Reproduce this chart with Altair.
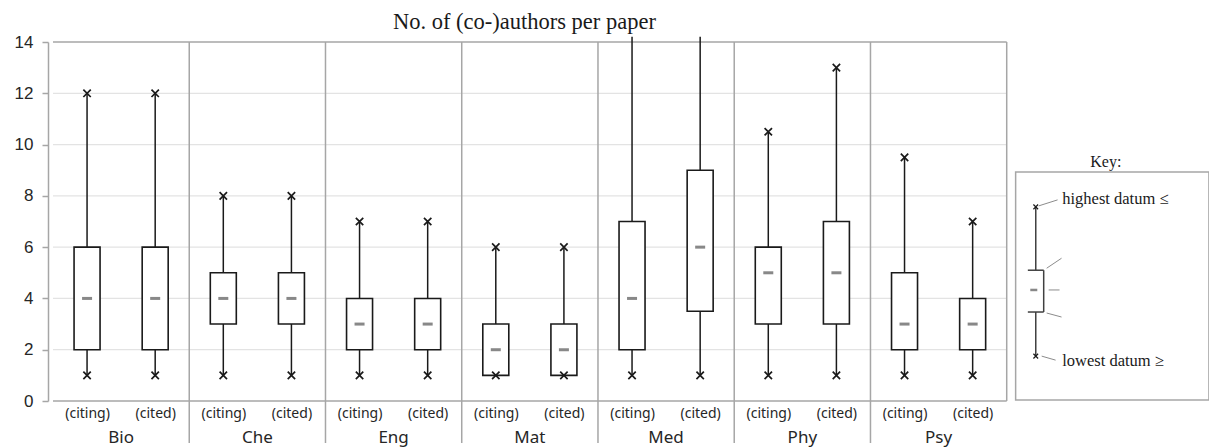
import altair as alt
import pandas as pd

# ---------------- data ----------------
groups = ["Bio", "Che", "Eng", "Mat", "Med", "Phy", "Psy"]
roles = ["(citing)", "(cited)"]
lows    = [1, 1,   1, 1,   1, 1,   1, 1,   1, 1,      1, 1,    1, 1]
q1s     = [2, 2,   3, 3,   2, 2,   1, 1,   2, 3.5,    3, 3,    2, 2]
medians = [4, 4,   4, 4,   3, 3,   2, 2,   4, 6,      5, 5,    3, 3]
q3s     = [6, 6,   5, 5,   4, 4,   3, 3,   7, 9,      6, 7,    5, 4]
highs   = [12, 12, 8, 8,   7, 7,   6, 6,   14.2, 14.2, 10.5, 13, 9.5, 7]
y_ticks = [0, 2, 4, 6, 8, 10, 12, 14]
title_text = "No. of (co-)authors per paper"

# key (schematic box)
key_values = {"low": 1.75, "q1": 3.47, "median": 4.33, "q3": 5.1, "high": 7.57}
key_labels = ["highest datum \u2264", "lowest datum \u2265"]

# ---------------- layout ----------------
W_PLOT = 962          # pixel width of the 7 group panels
H = 359
LEFT, TOP = 48, 42
TOTAL_W, TOTAL_H = 1209, 448
N = len(groups)
PX = W_PLOT / N                         # px per x unit
X_MAX = (TOTAL_W - LEFT) / PX
PY = H / 14.0                           # px per y unit

def xu(px):  # pixel offset -> x data units
    return px / PX

def yu(px):
    return px / PY

rows = []
for gi, g in enumerate(groups):
    for ri, r in enumerate(roles):
        i = gi * 2 + ri
        rows.append(dict(group=g, role=r, pos=gi + 0.25 + 0.5 * ri,
                         low=lows[i], q1=q1s[i], median=medians[i],
                         q3=q3s[i], high=highs[i]))
df = pd.DataFrame(rows)

xs = alt.Scale(domain=[0, X_MAX], nice=False, zero=False)
ys = alt.Scale(domain=[0, 14], nice=False, zero=False)
box_positions = list(df["pos"])

x_axis = alt.Axis(values=box_positions, title=None, domain=False, ticks=False, tickSize=0,
                  grid=False, labelExpr="(datum.value % 1) < 0.5 ? '(citing)' : '(cited)'",
                  labelFont="Noto Sans", labelFontSize=14, labelColor="#262626",
                  labelPadding=5, labelFlush=False, labelOverlap=False)
y_axis = alt.Axis(values=y_ticks, title=None, grid=False, domainColor="#a6a6a6",
                  domainWidth=1.5, tickColor="#a6a6a6", tickWidth=1.5, tickSize=6,
                  labelFont="Liberation Sans", labelFontSize=17, labelColor="#262626",
                  labelPadding=9, labelFlush=False)

def X(f, **kw):
    return alt.X(f, type="quantitative", scale=xs, axis=x_axis, **kw)

def Y(f, **kw):
    return alt.Y(f, type="quantitative", scale=ys, axis=y_axis, **kw)

def X2(f):
    return alt.X2(f)

def Y2(f):
    return alt.Y2(f)

# grid lines
grid_df = pd.DataFrame({"y": y_ticks[1:-1], "x": 0, "x2": N})
grid = alt.Chart(grid_df).mark_rule(color="#e3e3e3", strokeWidth=1.2).encode(
    x=X("x"), x2=X2("x2"), y=Y("y"))

# border lines (top, bottom, right)
border_df = pd.DataFrame([
    {"x": 0, "x2": N, "y": 14, "y2": 14},
    {"x": 0, "x2": N, "y": 0, "y2": 0},
    {"x": N, "x2": N, "y": 0, "y2": 14},
])
borders = alt.Chart(border_df).mark_rule(color="#a6a6a6", strokeWidth=1.5).encode(
    x=X("x"), x2=X2("x2"), y=Y("y"), y2=Y2("y2"))

# dividers between groups, extending into the label area
div_df = pd.DataFrame({"x": list(range(1, N)), "y": -yu(42), "y2": 14})
dividers = alt.Chart(div_df).mark_rule(color="#a6a6a6", strokeWidth=1.5).encode(
    x=X("x"), y=Y("y"), y2=Y2("y2"))

whiskers = alt.Chart(df).mark_rule(color="#1a1a1a", strokeWidth=1.5).encode(
    x=X("pos"), y=Y("low"), y2=Y2("high"))

boxes = alt.Chart(df).mark_bar(size=26, fill="white", stroke="#1a1a1a",
                               strokeWidth=1.6).encode(
    x=X("pos"), y=Y("q1"), y2=Y2("q3"))

meds = alt.Chart(df).mark_tick(orient="horizontal", size=10, thickness=3,
                               color="#555555").encode(
    x=X("pos"), y=Y("median"))

cross = "M-1,-1L1,1M-1,1L1,-1"
low_marks = alt.Chart(df).mark_point(shape=cross, size=55, filled=False,
                                     stroke="#1a1a1a", strokeWidth=1.7, opacity=1).encode(
    x=X("pos"), y=Y("low"))
high_marks = alt.Chart(df).transform_filter("datum.high <= 14").mark_point(
    shape=cross, size=55, filled=False, stroke="#1a1a1a", strokeWidth=1.7, opacity=1).encode(
    x=X("pos"), y=Y("high"))

grp_df = pd.DataFrame({"group": groups, "x": [i + 0.5 for i in range(N)], "y": -yu(37)})
grp_text = alt.Chart(grp_df).mark_text(font="Noto Sans", fontSize=17, color="#262626",
                                        baseline="middle", align="center").encode(
    x=X("x"), y=Y("y"), text="group:N")

title_df = pd.DataFrame({"t": [title_text], "x": [3.46], "y": [14 + yu(401 - 29 - H)]})
title = alt.Chart(title_df).mark_text(font="Liberation Serif", fontSize=22.5, color="#1a1a1a",
                                      baseline="alphabetic", align="center").encode(
    x=X("x"), y=Y("y"), text="t:N")

# ---------------- key ----------------
kx = xu(1039.3 - LEFT)
khw = xu(8)
key_frame_df = pd.DataFrame({"x": [xu(1019 - LEFT)], "x2": [X_MAX + xu(5)], "y": [0.04],
                             "y2": [yu(401 - 172)]})
key_frame = alt.Chart(key_frame_df).mark_rect(fill="white", stroke="#a6a6a6",
                                              strokeWidth=1.5).encode(
    x=X("x"), x2=X2("x2"), y=Y("y"), y2=Y2("y2"))

key_title_df = pd.DataFrame({"t": ["Key:"], "x": [xu(1110 - LEFT)], "y": [yu(401 - 162)]})
key_title = alt.Chart(key_title_df).mark_text(font="Liberation Serif", fontSize=16,
                                              color="#1a1a1a", baseline="middle").encode(
    x=X("x"), y=Y("y"), text="t:N")

kv = key_values
key_lines_df = pd.DataFrame([
    {"x": kx, "x2": kx, "y": kv["q3"], "y2": kv["high"]},
    {"x": kx, "x2": kx, "y": kv["low"], "y2": kv["q1"]},
    {"x": kx - khw, "x2": kx + khw, "y": kv["q3"], "y2": kv["q3"]},
    {"x": kx - khw, "x2": kx + khw, "y": kv["q1"], "y2": kv["q1"]},
    {"x": kx + khw, "x2": kx + khw, "y": kv["q1"], "y2": kv["q3"]},
])
key_lines = alt.Chart(key_lines_df).mark_rule(color="#404040", strokeWidth=1.5).encode(
    x=X("x"), x2=X2("x2"), y=Y("y"), y2=Y2("y2"))

key_med = alt.Chart(pd.DataFrame({"x": [kx - xu(2)], "y": [kv["median"]]})).mark_tick(
    orient="horizontal", size=7, thickness=2.5, color="#555555").encode(
    x=X("x"), y=Y("y"))

key_ends = alt.Chart(pd.DataFrame({"x": [kx, kx], "y": [kv["low"], kv["high"]]})).mark_point(
    shape=cross, size=22, filled=False, stroke="#1a1a1a", strokeWidth=1.2, opacity=1).encode(
    x=X("x"), y=Y("y"))

ptr_df = pd.DataFrame([
    {"x": kx + xu(3), "x2": kx + xu(22), "y": kv["high"] + yu(1), "y2": kv["high"] + yu(7)},
    {"x": kx + khw + xu(3), "x2": kx + khw + xu(18), "y": kv["q3"] + yu(2), "y2": kv["q3"] + yu(12)},
    {"x": kx + khw + xu(5), "x2": kx + khw + xu(16), "y": kv["median"], "y2": kv["median"]},
    {"x": kx + khw + xu(3), "x2": kx + khw + xu(18), "y": kv["q1"] - yu(1), "y2": kv["q1"] - yu(5)},
    {"x": kx + xu(6), "x2": kx + xu(20), "y": kv["low"], "y2": kv["low"] - yu(4)},
])
pointers = alt.Chart(ptr_df).mark_rule(color="#8c8c8c", strokeWidth=1).encode(
    x=X("x"), x2=X2("x2"), y=Y("y"), y2=Y2("y2"))

key_text_df = pd.DataFrame({"t": key_labels, "x": [xu(1066 - LEFT)] * 2,
                            "y": [kv["high"] + yu(8), kv["low"] - yu(5)]})
key_text = alt.Chart(key_text_df).mark_text(font="Liberation Serif", fontSize=16.5,
                                            color="#1a1a1a", align="left",
                                            baseline="middle").encode(
    x=X("x"), y=Y("y"), text="t:N")

chart = alt.layer(
    grid, borders, dividers, whiskers, boxes, meds, low_marks, high_marks,
    grp_text, title, key_frame, key_title, key_lines, key_med, key_ends, pointers, key_text
).properties(
    width=TOTAL_W - LEFT, height=H,
    background="white",
    autosize=alt.AutoSizeParams(type="none"),
    padding={"left": LEFT, "top": TOP, "right": 0, "bottom": TOTAL_H - TOP - H},
).configure_view(stroke=None)

chart.save("out.html", embed_options={"renderer": "svg", "actions": False})
